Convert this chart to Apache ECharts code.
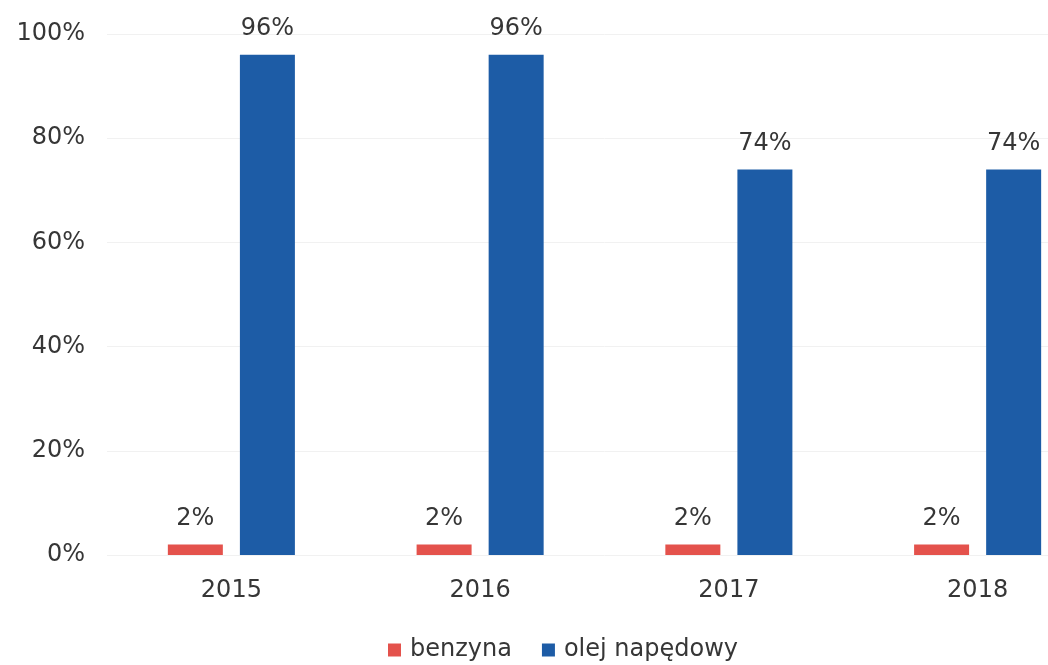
<!DOCTYPE html>
<html><head><meta charset="utf-8">
<script src="https://cdn.jsdelivr.net/npm/echarts@6/dist/echarts.min.js"></script>
<style>html,body{margin:0;padding:0;background:#fff;overflow:hidden}#c{width:1102px;height:665px}</style>
</head><body><div id="c"></div>
<script>
const categories = ['2015', '2016', '2017', '2018'];
const benzyna = [2, 2, 2, 2];
const olejNapedowy = [96, 96, 74, 74];
const yTicks = [0, 20, 40, 60, 80, 100];

const font = 'DejaVu Sans';
const txt = '#363636';
const chart = echarts.init(document.getElementById('c'));
chart.setOption({
  animation: false,
  textStyle: { fontFamily: font },
  grid: { left: 107, right: 0, top: 34, bottom: 110 },
  legend: {
    top: 633, left: 383, itemWidth: 13, itemHeight: 13, itemGap: 30,
    icon: 'rect',
    textStyle: { fontSize: 24, color: txt, fontFamily: font, padding: [0, 0, 0, 4] },
    data: ['benzyna', 'olej napędowy']
  },
  xAxis: {
    type: 'category', data: categories,
    axisLine: { show: false }, axisTick: { show: false },
    axisLabel: { fontSize: 24, color: txt, margin: 24 }
  },
  yAxis: {
    type: 'value', min: yTicks[0], max: yTicks[yTicks.length - 1], interval: 20,
    axisLabel: { fontSize: 24, color: txt, margin: 22, formatter: '{value}%' },
    splitLine: { lineStyle: { color: '#f1f1f1', width: 1 } },
    axisLine: { show: false }, axisTick: { show: false }
  },
  series: [
    {
      name: 'benzyna', type: 'bar', data: benzyna, barWidth: 55, barGap: '31%',
      itemStyle: { color: '#e4524c' },
      label: { show: true, position: 'top', distance: 14, fontSize: 24, color: txt, formatter: '{c}%' }
    },
    {
      name: 'olej napędowy', type: 'bar', data: olejNapedowy, barWidth: 55, barGap: '31%',
      itemStyle: { color: '#1d5ca6' },
      label: { show: true, position: 'top', distance: 14, fontSize: 24, color: txt, formatter: '{c}%' }
    }
  ]
});
</script></body></html>
